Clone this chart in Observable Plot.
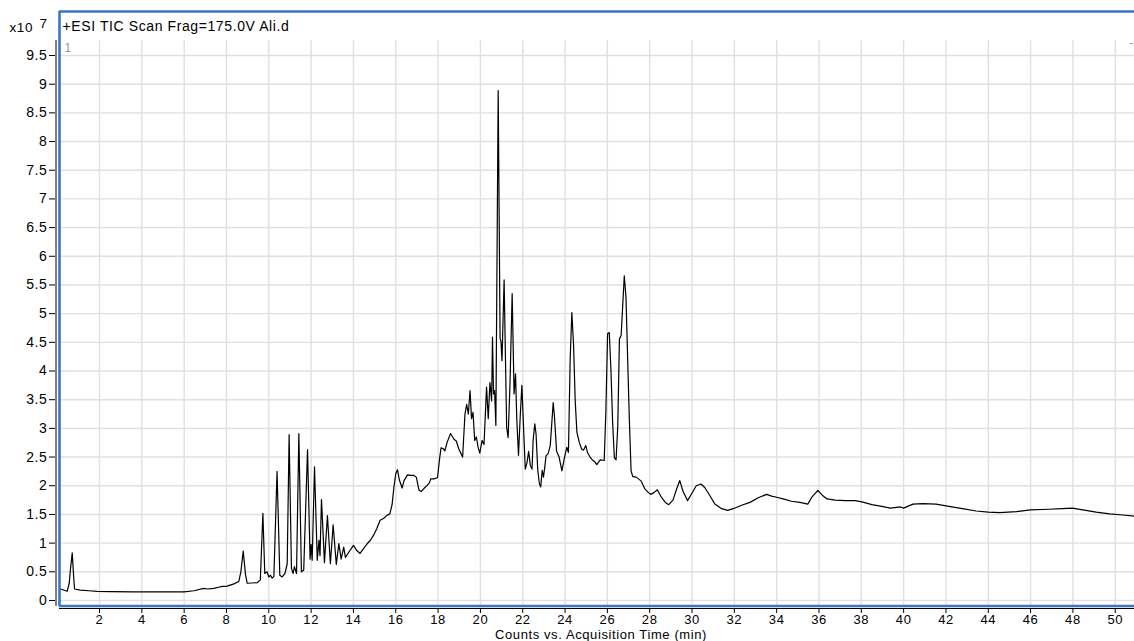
<!DOCTYPE html>
<html>
<head>
<meta charset="utf-8">
<script src="https://cdn.jsdelivr.net/npm/d3@7"></script>
<script src="https://cdn.jsdelivr.net/npm/@observablehq/plot@0.6"></script>
<style>
  html, body { margin: 0; padding: 0; background: #fff; }
</style>
</head>
<body>
<div id="chart"></div>
<script>
// Acquisition time (min)
const times = [
  0.11, 0.16, 0.47, 0.57, 0.62, 0.71, 0.78, 0.82, 1.1, 1.5, 1.89, 2.5, 3.6, 5.0, 6.0, 6.46, 6.93, 7.1, 7.4, 7.72,
  8.03, 8.35, 8.58, 8.68, 8.79, 8.9, 8.98, 9.45, 9.6, 9.72, 9.81, 9.92, 10.0, 10.08, 10.16, 10.24, 10.39, 10.52, 10.63, 10.76,
  10.87, 10.96, 11.07, 11.15, 11.21, 11.31, 11.42, 11.54, 11.65, 11.83, 11.95, 12.0, 12.05, 12.16, 12.29, 12.37, 12.42, 12.49, 12.63, 12.77,
  12.91, 13.04, 13.19, 13.31, 13.42, 13.54, 13.62, 13.78, 14.0, 14.16, 14.31, 14.47, 14.63, 14.8, 14.94, 15.1, 15.26, 15.42, 15.57, 15.72,
  15.83, 15.91, 16.0, 16.08, 16.17, 16.3, 16.39, 16.55, 16.7, 16.86, 16.97, 17.1, 17.2, 17.35, 17.5, 17.6, 17.65, 17.8, 17.97, 18.08,
  18.14, 18.23, 18.32, 18.43, 18.59, 18.75, 18.86, 18.98, 19.16, 19.27, 19.35, 19.43, 19.51, 19.58, 19.65, 19.73, 19.81, 19.89, 19.97, 20.08,
  20.17, 20.29, 20.37, 20.45, 20.53, 20.57, 20.62, 20.67, 20.73, 20.84, 20.93, 20.97, 21.02, 21.12, 21.18, 21.24, 21.31, 21.4, 21.5, 21.56,
  21.59, 21.66, 21.72, 21.8, 21.88, 21.96, 22.04, 22.12, 22.2, 22.28, 22.36, 22.44, 22.49, 22.57, 22.63, 22.71, 22.79, 22.85, 22.92, 22.98,
  23.05, 23.1, 23.2, 23.3, 23.44, 23.5, 23.6, 23.72, 23.85, 23.95, 24.08, 24.16, 24.24, 24.32, 24.4, 24.48, 24.56, 24.67, 24.78, 24.87,
  24.98, 25.06, 25.18, 25.29, 25.4, 25.5, 25.66, 25.85, 25.93, 26.01, 26.09, 26.17, 26.25, 26.33, 26.41, 26.49, 26.57, 26.65, 26.72, 26.8,
  26.88, 26.96, 27.04, 27.12, 27.2, 27.36, 27.47, 27.6, 27.78, 27.94, 28.05, 28.2, 28.36, 28.55, 28.74, 28.9, 29.1, 29.26, 29.42, 29.58,
  29.79, 29.98, 30.2, 30.42, 30.6, 30.84, 31.08, 31.4, 31.68, 31.95, 32.34, 32.74, 33.13, 33.53, 33.76, 34.0, 34.3, 34.7, 35.1, 35.47,
  35.66, 35.95, 36.14, 36.38, 36.77, 37.25, 37.72, 38.03, 38.5, 38.97, 39.37, 39.85, 40.0, 40.44, 40.91, 41.54, 42.0, 42.63, 43.43, 44.0,
  44.54, 45.33, 46.0, 46.87, 47.5, 47.97, 48.47, 49.1, 49.73, 50.36, 50.91
];
// Counts (x10^7)
const counts = [
  0.20, 0.20, 0.16, 0.30, 0.52, 0.83, 0.40, 0.20, 0.18, 0.17, 0.16, 0.155, 0.15, 0.15, 0.15, 0.17, 0.21, 0.20, 0.21, 0.24,
  0.25, 0.29, 0.33, 0.50, 0.86, 0.45, 0.30, 0.31, 0.36, 1.52, 0.47, 0.50, 0.41, 0.44, 0.39, 0.42, 2.25, 0.44, 0.41, 0.47,
  0.64, 2.89, 0.56, 0.47, 0.59, 0.47, 2.91, 0.50, 0.53, 2.63, 0.72, 0.98, 0.70, 2.33, 0.70, 1.05, 0.78, 1.76, 0.66, 1.48,
  0.64, 1.32, 0.63, 0.99, 0.72, 0.93, 0.75, 0.84, 0.96, 0.87, 0.82, 0.90, 0.98, 1.05, 1.13, 1.25, 1.40, 1.43, 1.48, 1.51,
  1.68, 1.97, 2.21, 2.28, 2.10, 1.96, 2.09, 2.19, 2.18, 2.18, 2.15, 1.92, 1.90, 1.96, 2.01, 2.06, 2.12, 2.12, 2.14, 2.50,
  2.66, 2.65, 2.61, 2.76, 2.91, 2.81, 2.78, 2.64, 2.50, 3.25, 3.42, 3.25, 3.66, 3.17, 3.28, 2.79, 2.85, 2.67, 2.57, 2.79,
  2.72, 3.72, 3.17, 3.80, 3.48, 4.59, 3.60, 3.66, 3.05, 8.89, 4.56, 4.52, 4.18, 5.59, 4.30, 3.02, 2.84, 3.80, 5.35, 4.20,
  3.60, 3.95, 3.15, 2.53, 3.20, 3.75, 3.00, 2.29, 2.40, 2.60, 2.35, 2.29, 2.79, 3.08, 2.90, 2.27, 2.03, 1.98, 2.27, 2.15,
  2.35, 2.52, 2.56, 2.70, 3.45, 3.20, 2.60, 2.50, 2.26, 2.45, 2.67, 2.58, 4.18, 5.02, 4.47, 3.48, 2.93, 2.76, 2.64, 2.62,
  2.70, 2.58, 2.50, 2.45, 2.42, 2.37, 2.45, 2.44, 3.31, 4.65, 4.67, 4.00, 3.08, 2.49, 2.45, 3.03, 4.56, 4.62, 5.11, 5.66,
  5.28, 4.18, 3.13, 2.26, 2.16, 2.15, 2.12, 2.08, 1.94, 1.88, 1.85, 1.88, 1.93, 1.80, 1.71, 1.67, 1.75, 1.93, 2.09, 1.90,
  1.74, 1.86, 2.00, 2.03, 1.97, 1.83, 1.68, 1.60, 1.57, 1.60, 1.66, 1.71, 1.79, 1.85, 1.82, 1.80, 1.77, 1.73, 1.71, 1.68,
  1.80, 1.92, 1.84, 1.77, 1.75, 1.74, 1.74, 1.72, 1.67, 1.64, 1.61, 1.63, 1.61, 1.68, 1.69, 1.68, 1.65, 1.61, 1.56, 1.54,
  1.53, 1.55, 1.58, 1.59, 1.60, 1.61, 1.58, 1.54, 1.51, 1.49, 1.47
];

const xTicks = [2, 4, 6, 8, 10, 12, 14, 16, 18, 20, 22, 24, 26, 28, 30, 32, 34, 36, 38, 40, 42, 44, 46, 48, 50];
const yTicks = [0, 0.5, 1, 1.5, 2, 2.5, 3, 3.5, 4, 4.5, 5, 5.5, 6, 6.5, 7, 7.5, 8, 8.5, 9, 9.5];

const titleText = "+ESI TIC Scan Frag=175.0V Ali.d";
const xLabel = "Counts vs. Acquisition Time (min)";
const exponentBase = "x10";
const exponent = "7";

const xDomain = [0.109, 50.91];
const yDomain = [-0.105, 10.267];
const gridTop = 9.761;

const data = times.map((t, i) => ({t, v: counts[i]}));

const blue = "#3b73c8";
const gridColor = "#e0e0e0";
const font = "Liberation Sans, Arial, Helvetica, sans-serif";

const chart = Plot.plot({
  width: 1134,
  height: 641,
  marginLeft: 59,
  marginRight: 0,
  marginTop: 11,
  marginBottom: 35,
  style: {fontFamily: font, fontSize: "14px", background: "#fff", color: "#000", letterSpacing: "0.6px"},
  x: {domain: xDomain},
  y: {domain: yDomain},
  marks: [
    Plot.ruleY(yTicks, {stroke: gridColor, strokeWidth: 1.4}),
    Plot.ruleX(xTicks, {y1: yDomain[0], y2: gridTop, stroke: gridColor, strokeWidth: 1.4}),
    Plot.line(data, {x: "t", y: "v", stroke: "#000", strokeWidth: 1.2, curve: "linear"}),
    // blue frame (left, top, bottom)
    Plot.ruleX([xDomain[0]], {stroke: blue, strokeWidth: 2.6}),
    Plot.ruleY([yDomain[1]], {stroke: blue, strokeWidth: 2.6}),
    Plot.ruleY([yDomain[0]], {stroke: blue, strokeWidth: 2.6, dy: -0.5}),
    // black axis lines
    Plot.ruleX([xDomain[0]], {y1: yDomain[0], y2: gridTop, stroke: "#000", strokeWidth: 1, dx: -3.5}),
    Plot.ruleY([yDomain[0]], {stroke: "#000", strokeWidth: 1, dy: 2, x1: xDomain[0], x2: xDomain[1]}),
    Plot.axisY({ticks: yTicks, tickSize: 6, dx: -4, tickPadding: 2, tickFormat: d => String(d), fontSize: 14, label: null, stroke: "#000"}),
    Plot.axisX({ticks: xTicks, tickSize: 5, dy: 2, tickPadding: 1, tickFormat: d => String(d), fontSize: 13, label: null, stroke: "#000", style: {letterSpacing: "1px"}}),
    Plot.text([titleText], {frameAnchor: "top-left", dx: 3, dy: 15, textAnchor: "start", lineAnchor: "middle", fontSize: 14, fill: "#000"}),
    Plot.text([exponentBase], {frameAnchor: "top-left", dx: -50, dy: 16, textAnchor: "start", lineAnchor: "middle", fontSize: 13.5, fill: "#000"}),
    Plot.text([exponent], {frameAnchor: "top-left", dx: -20, dy: 12, textAnchor: "start", lineAnchor: "middle", fontSize: 13.5, fill: "#000"}),
    Plot.text(["1"], {frameAnchor: "top-left", dx: 5, dy: 37, textAnchor: "start", lineAnchor: "middle", fontSize: 12, fill: "#999"}),
    Plot.text(["-"], {frameAnchor: "top-right", dx: -1, dy: 32, textAnchor: "end", lineAnchor: "middle", fontSize: 12, fill: "#999"}),
    Plot.text([xLabel], {frameAnchor: "bottom", dx: 4, dy: 28.5, textAnchor: "middle", lineAnchor: "middle", fontSize: 13, fill: "#000", style: {letterSpacing: "1px"}})
  ]
});

document.getElementById("chart").appendChild(chart);
</script>
</body>
</html>
